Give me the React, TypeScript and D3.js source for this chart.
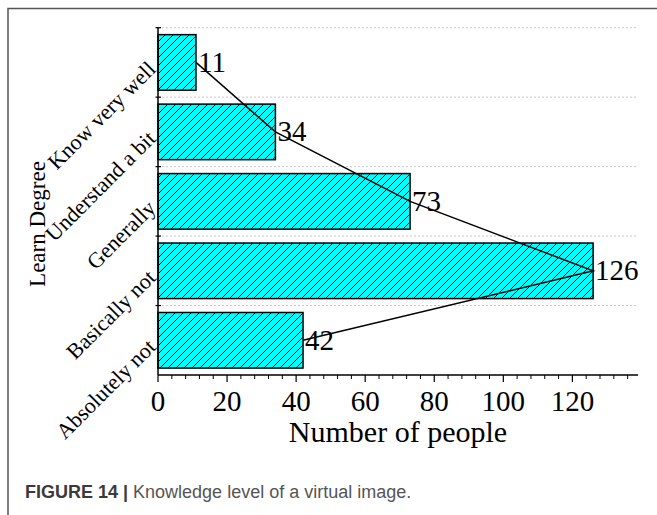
import * as d3 from 'd3';

const categories = ['Know very well', 'Understand a bit', 'Generally', 'Basically not', 'Absolutely not'];
const values = [11, 34, 73, 126, 42];
const xTicks = [0, 20, 40, 60, 80, 100, 120];

const W = 657;
const H = 515;
const left = 158;
const right = 638;
const top = 27.7;
const bottom = 375;
const serif = '"Liberation Serif", "Times New Roman", serif';
const sans = '"Liberation Sans", Arial, sans-serif';

function App() {
  const x = d3.scaleLinear().domain([0, 139]).range([left, right]);
  const y = d3.scaleBand<string>()
    .domain(categories)
    .range([top, bottom])
    .paddingInner(0.2)
    .paddingOuter(0.1);

  const step = y.step();
  const bw = y.bandwidth();
  const bounds = categories.map(c => (y(c) as number) - (step - bw) / 2);
  const minorTicks = d3.range(0, 139, 4).filter(v => v % 20 !== 0);

  const pts: [number, number][] = categories.map((c, i) => [x(values[i]), (y(c) as number) + bw / 2]);
  const line = d3.line();

  return (
    <svg width={W} height={H} style={{ position: 'absolute', left: 0, top: 0 }}>
      <defs>
        <pattern id="hatch" patternUnits="userSpaceOnUse" width={8} height={8}>
          <rect width={8} height={8} fill="#00ffff" />
          <path d="M0,8 L8,0 M-2,2 L2,-2 M6,10 L10,6" stroke="#000" strokeWidth={1} />
        </pattern>
      </defs>

      {/* figure frame */}
      <path d={`M8,${H} L8,8.5 L${W},8.5`} fill="none" stroke="#555" strokeWidth={1.5} />

      {/* grid */}
      {bounds.map((b, i) => (
        <line key={'g' + i} x1={left} x2={637} y1={b} y2={b} stroke="#c8c8c8" strokeWidth={1} strokeDasharray="2,2" />
      ))}

      {/* bars */}
      {categories.map((c, i) => (
        <rect key={c} x={x(0)} y={y(c)} width={x(values[i]) - x(0)} height={bw}
          fill="url(#hatch)" stroke="#000" strokeWidth={1.5} />
      ))}

      {/* line through bar ends */}
      <path d={line(pts) || ''} fill="none" stroke="#000" strokeWidth={1.5} />

      {/* value labels */}
      {categories.map((c, i) => (
        <text key={'v' + c} x={x(values[i]) + 2} y={(y(c) as number) + bw / 2} dy="0.33em"
          fontFamily={serif} fontSize={29} fill="#000">{values[i]}</text>
      ))}

      {/* y axis */}
      <line x1={left} x2={left} y1={top} y2={bottom} stroke="#000" strokeWidth={1.5} />
      {bounds.map((b, i) => (
        <line key={'yt' + i} x1={left - 2.5} x2={left + 3} y1={b} y2={b} stroke="#000" strokeWidth={1.2} />
      ))}
      {categories.map(c => {
        const cy = (y(c) as number) + bw / 2;
        return (
          <text key={'yl' + c} transform={`translate(${left - 1},${cy + 8}) rotate(-45)`} textAnchor="end"
            fontFamily={serif} fontSize={22} fill="#000">{c}</text>
        );
      })}
      <text transform={`translate(45,224) rotate(-90)`} textAnchor="middle" fontFamily={serif} fontSize={23} fill="#000">
        Learn Degree
      </text>

      {/* x axis */}
      <line x1={left} x2={right} y1={bottom} y2={bottom} stroke="#000" strokeWidth={1.5} />
      {xTicks.map(t => (
        <g key={'xt' + t}>
          <line x1={x(t)} x2={x(t)} y1={bottom} y2={bottom + 7} stroke="#000" strokeWidth={1.2} />
          <text x={x(t)} y={411} textAnchor="middle" fontFamily={serif} fontSize={29} fill="#000">{t}</text>
        </g>
      ))}
      {minorTicks.map(t => (
        <line key={'mt' + t} x1={x(t)} x2={x(t)} y1={bottom} y2={bottom + 4} stroke="#000" strokeWidth={1} />
      ))}
      <text x={(left + right) / 2} y={442} textAnchor="middle" fontFamily={serif} fontSize={30} fill="#000">
        Number of people
      </text>

      {/* caption */}
      <text x={25} y={498} fontFamily={sans} fontSize={18}>
        <tspan fontWeight="bold" fill="#3a3a3a">FIGURE 14 | </tspan>
        <tspan fill="#555">Knowledge level of a virtual image.</tspan>
      </text>
    </svg>
  );
}

export default App;
